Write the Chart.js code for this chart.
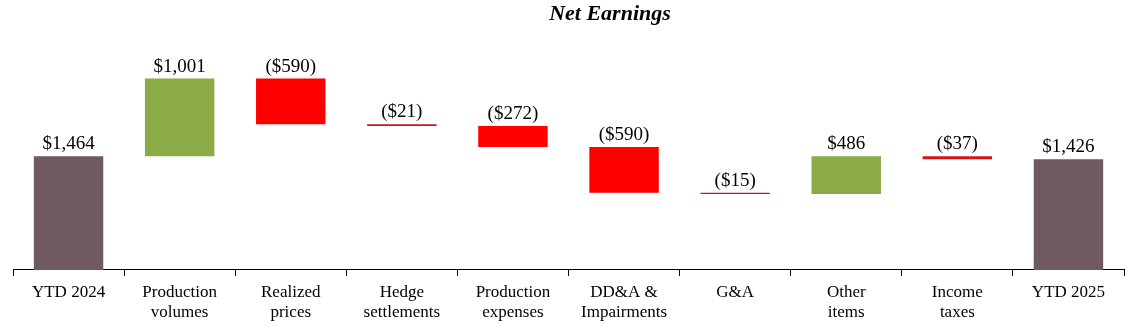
<!DOCTYPE html>
<html>
<head>
<meta charset="utf-8">
<script src="https://cdn.jsdelivr.net/npm/chart.js@4"></script>
<style>
    html, body { margin: 0; padding: 0; background: #fff; }
    #wrap { width: 1138px; height: 328px; }
</style>
</head>
<body>
<div id="wrap"><canvas id="earningsChart"></canvas></div>
<script>
const categories = [
    ['YTD 2024'], ['Production', 'volumes'], ['Realized', 'prices'], ['Hedge', 'settlements'],
    ['Production', 'expenses'], ['DD&A &', 'Impairments'], ['G&A'], ['Other', 'items'],
    ['Income', 'taxes'], ['YTD 2025']
];
const amounts = [1464, 1001, -590, -21, -272, -590, -15, 486, -37, 1426];
const isTotal = [true, false, false, false, false, false, false, false, false, true];
const yTicks = [0, 3000];
const chartTitle = 'Net Earnings';

const totalColor = '#6F5A5F';
const upColor = '#8BAB47';
const downColor = '#FF0000';
const thinDownColor = '#D41418';

// floating bars from the running total
let running = 0;
const floating = amounts.map((v, i) => {
    if (isTotal[i]) {
        running = v;
        return [0, v];
    }
    const start = running;
    running += v;
    return [start, running];
});

const colors = amounts.map((v, i) => {
    if (isTotal[i]) return totalColor;
    if (v >= 0) return upColor;
    return Math.abs(v) < 50 ? thinDownColor : downColor;
});

function formatAmount(v) {
    const s = '$' + Math.abs(v).toLocaleString('en-US');
    return v < 0 ? '(' + s + ')' : s;
}

// value labels above each bar + the title (sits right of centre in the original)
const valueLabels = {
    id: 'valueLabels',
    afterDatasetsDraw(chart) {
        const ctx = chart.ctx;
        const meta = chart.getDatasetMeta(0);
        ctx.save();
        ctx.fillStyle = '#000';
        ctx.textAlign = 'center';
        ctx.textBaseline = 'alphabetic';
        ctx.font = '19px "Liberation Serif"';
        meta.data.forEach((bar, i) => {
            const top = Math.min(bar.y, bar.base);
            ctx.fillText(formatAmount(amounts[i]), bar.x, top - 7);
        });
        ctx.font = 'italic bold 22px "Liberation Serif"';
        ctx.fillText(chartTitle, 610, 20);
        ctx.restore();
    }
};

new Chart(document.getElementById('earningsChart'), {
    type: 'bar',
    data: {
        labels: categories,
        datasets: [{
            data: floating,
            backgroundColor: colors,
            borderWidth: 0,
            barPercentage: 0.625,
            categoryPercentage: 1
        }]
    },
    options: {
        responsive: true,
        maintainAspectRatio: false,
        animation: false,
        layout: { padding: { left: 13, right: 14, top: 37, bottom: -2 } },
        plugins: {
            legend: { display: false },
            tooltip: { enabled: false },
            title: { display: false }
        },
        scales: {
            x: {
                grid: {
                    offset: true,
                    drawOnChartArea: false,
                    drawTicks: true,
                    tickLength: 6,
                    color: '#000'
                },
                border: { display: true, color: '#000', width: 1 },
                ticks: {
                    color: '#000',
                    padding: 7,
                    maxRotation: 0,
                    autoSkip: false,
                    font: { family: 'Liberation Serif', size: 17, lineHeight: 1.18 }
                }
            },
            y: {
                display: false,
                min: yTicks[0],
                max: yTicks[1]
            }
        }
    },
    plugins: [valueLabels]
});
</script>
</body>
</html>
